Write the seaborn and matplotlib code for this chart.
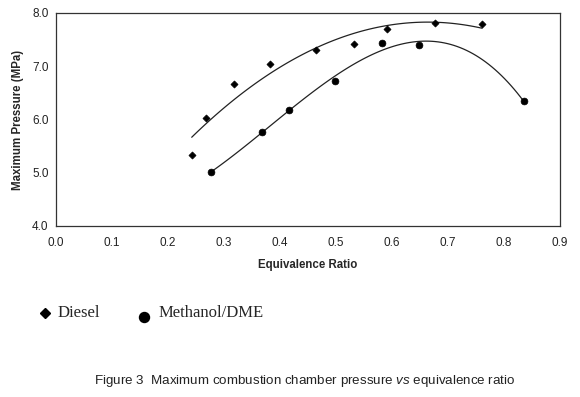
import numpy as np
import pandas as pd
import matplotlib
matplotlib.use("Agg")
import matplotlib.pyplot as plt
from matplotlib.lines import Line2D
import seaborn as sns

# ---- data ----
diesel_phi = [0.243, 0.268, 0.319, 0.382, 0.465, 0.533, 0.592, 0.677, 0.761]
diesel_p = [5.33, 6.02, 6.66, 7.04, 7.30, 7.42, 7.70, 7.82, 7.80]
meth_phi = [0.277, 0.368, 0.416, 0.499, 0.583, 0.649, 0.835]
meth_p = [5.01, 5.76, 6.18, 6.73, 7.43, 7.40, 6.35]
x_ticks = [0.0, 0.1, 0.2, 0.3, 0.4, 0.5, 0.6, 0.7, 0.8, 0.9]
y_ticks = [4.0, 5.0, 6.0, 7.0, 8.0]
series_names = ["Diesel", "Methanol/DME"]

sns.set_style("white")
plt.rcParams["font.family"] = ["Liberation Sans", "DejaVu Sans"]
plt.rcParams["mathtext.fontset"] = "custom"
plt.rcParams["mathtext.rm"] = "Liberation Sans"
plt.rcParams["mathtext.it"] = "Liberation Sans:italic"

df_d = pd.DataFrame({"phi": diesel_phi, "p": diesel_p})
df_m = pd.DataFrame({"phi": meth_phi, "p": meth_p})

fig = plt.figure(figsize=(5.8, 3.97), dpi=100)
ax = fig.add_axes([55.5 / 580, 1 - 226 / 397, (560 - 55.5) / 580, (226 - 13) / 397])

# trend lines
sns.regplot(data=df_d, x="phi", y="p", order=2, ci=None, scatter=False, truncate=True,
            line_kws=dict(color="#222222", lw=0.9), ax=ax)
sns.regplot(data=df_m, x="phi", y="p", order=3, ci=None, scatter=False, truncate=True,
            line_kws=dict(color="#222222", lw=0.9), ax=ax)
# markers
sns.scatterplot(data=df_d, x="phi", y="p", marker="D", s=13, color="black",
                edgecolor="black", linewidth=0.5, ax=ax, zorder=3)
sns.scatterplot(data=df_m, x="phi", y="p", marker="o", s=24, color="black",
                edgecolor="black", linewidth=0.5, ax=ax, zorder=3)

ax.set_xlim(0.0, 0.9)
ax.set_ylim(4.0, 8.0)
ax.set_xticks(x_ticks)
ax.set_yticks(y_ticks)
ax.set_xticklabels([f"{v:.1f}" for v in x_ticks], fontsize=8.5, color="#222222")
ax.set_yticklabels([f"{v:.1f}" for v in y_ticks], fontsize=8.5, color="#222222")
ax.tick_params(axis="x", direction="in", length=2.5, width=0.6, pad=8, color="#555555")
ax.tick_params(axis="y", direction="out", length=3, width=0.6, pad=2, color="#333333")
for sp in ax.spines.values():
    sp.set_visible(True)
    sp.set_color("#333333")
    sp.set_linewidth(0.9)

ax.set_xlabel("Equivalence Ratio", fontsize=8.3, fontweight="bold", labelpad=7)
ax.set_ylabel("Maximum Pressure (MPa)", fontsize=8.3, fontweight="bold", labelpad=6)

# legend (manual, below the chart)
fig.add_artist(Line2D([45 / 580], [1 - 313 / 397], marker="D", markersize=5.6,
                      color="black", transform=fig.transFigure))
fig.text(58 / 580, 1 - 313 / 397, series_names[0], fontsize=12,
         family=["Liberation Serif"], va="center", ha="left")
fig.add_artist(Line2D([144 / 580], [1 - 317 / 397], marker="o", markersize=7.2,
                      color="black", transform=fig.transFigure))
fig.text(159 / 580, 1 - 313 / 397, series_names[1], fontsize=12,
         family=["Liberation Serif"], va="center", ha="left")

fig.text(304.5 / 580, 1 - 381 / 397,
         r"Figure 3  Maximum combustion chamber pressure $\mathit{vs}$ equivalence ratio",
         fontsize=9.6, ha="center", va="center", color="#222222")

fig.savefig("out.png", dpi=100)
